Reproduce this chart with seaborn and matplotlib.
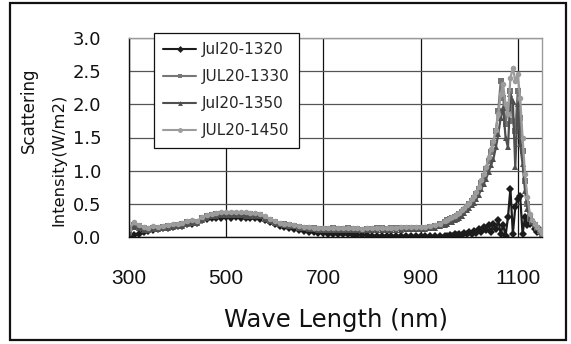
import matplotlib
matplotlib.use("Agg")
import matplotlib.pyplot as plt
from matplotlib import font_manager
from matplotlib.patches import Rectangle
import pandas as pd
import seaborn as sns

# Wavelength grid (nm): 10 nm steps up to 950, 5 nm steps through the NIR peak
wavelength = [
    300, 310, 320, 330, 340, 350, 360, 370, 380, 390,
    400, 410, 420, 430, 440, 450, 460, 470, 480, 490,
    500, 510, 520, 530, 540, 550, 560, 570, 580, 590,
    600, 610, 620, 630, 640, 650, 660, 670, 680, 690,
    700, 710, 720, 730, 740, 750, 760, 770, 780, 790,
    800, 810, 820, 830, 840, 850, 860, 870, 880, 890,
    900, 910, 920, 930, 940, 950,
    955, 960, 965, 970, 975, 980, 985, 990, 995, 1000,
    1005, 1010, 1015, 1020, 1025, 1030, 1035, 1040, 1045, 1050,
    1055, 1060, 1065, 1070, 1075, 1080, 1085, 1090, 1095, 1100,
    1105, 1110, 1115, 1120, 1125, 1130, 1135, 1140, 1145, 1150,
]

jul20_1320 = [
    0.00, 0.03, 0.05, 0.07, 0.09, 0.11, 0.12, 0.13, 0.14, 0.15,
    0.16, 0.17, 0.19, 0.20, 0.21, 0.25, 0.27, 0.28, 0.29, 0.29,
    0.30, 0.29, 0.30, 0.29, 0.29, 0.28, 0.28, 0.27, 0.25, 0.22,
    0.19, 0.17, 0.15, 0.13, 0.12, 0.10, 0.09, 0.08, 0.07, 0.06,
    0.06, 0.05, 0.05, 0.04, 0.04, 0.04, 0.03, 0.03, 0.03, 0.03,
    0.02, 0.02, 0.02, 0.02, 0.02, 0.01, 0.01, 0.01, 0.01, 0.01,
    0.01, 0.01, 0.02, 0.01, 0.02, 0.02,
    0.01, 0.03, 0.02, 0.04, 0.03, 0.05, 0.03, 0.06, 0.04, 0.07,
    0.05, 0.09, 0.06, 0.12, 0.08, 0.15, 0.10, 0.18, 0.08, 0.20,
    0.12, 0.25, 0.05, 0.18, 0.02, 0.30, 0.73, 0.05, 0.45, 0.58,
    0.62, 0.05, 0.30, 0.18, 0.20, 0.22, 0.12, 0.08, 0.10, 0.04,
]

jul20_1330 = [
    0.08, 0.18, 0.16, 0.13, 0.12, 0.14, 0.13, 0.15, 0.16, 0.17,
    0.18, 0.19, 0.22, 0.23, 0.22, 0.28, 0.31, 0.33, 0.34, 0.35,
    0.35, 0.35, 0.35, 0.34, 0.34, 0.34, 0.33, 0.33, 0.29, 0.25,
    0.22, 0.20, 0.19, 0.18, 0.17, 0.15, 0.14, 0.14, 0.13, 0.12,
    0.12, 0.12, 0.13, 0.12, 0.12, 0.13, 0.12, 0.12, 0.11, 0.12,
    0.12, 0.13, 0.13, 0.12, 0.13, 0.13, 0.14, 0.14, 0.14, 0.14,
    0.14, 0.14, 0.15, 0.17, 0.19, 0.22,
    0.25, 0.27, 0.28, 0.30, 0.32, 0.34, 0.37, 0.41, 0.45, 0.49,
    0.54, 0.59, 0.65, 0.72, 0.82, 0.92, 1.02, 1.15, 1.28, 1.42,
    1.60, 1.90, 2.35, 2.10, 1.70, 1.95, 2.20, 1.75, 1.60, 2.20,
    1.80, 1.30, 0.85, 0.50, 0.30, 0.22, 0.18, 0.13, 0.09, 0.05,
]

jul20_1350 = [
    0.06, 0.15, 0.14, 0.11, 0.10, 0.12, 0.12, 0.13, 0.14, 0.15,
    0.16, 0.17, 0.20, 0.21, 0.21, 0.26, 0.29, 0.31, 0.32, 0.33,
    0.33, 0.33, 0.33, 0.33, 0.32, 0.32, 0.32, 0.31, 0.27, 0.24,
    0.21, 0.19, 0.18, 0.17, 0.16, 0.14, 0.13, 0.12, 0.12, 0.11,
    0.10, 0.10, 0.11, 0.10, 0.10, 0.11, 0.10, 0.10, 0.10, 0.10,
    0.10, 0.11, 0.11, 0.10, 0.11, 0.11, 0.11, 0.12, 0.12, 0.12,
    0.12, 0.12, 0.13, 0.14, 0.16, 0.18,
    0.20, 0.22, 0.23, 0.25, 0.27, 0.29, 0.32, 0.36, 0.40, 0.44,
    0.48, 0.52, 0.57, 0.64, 0.72, 0.80, 0.88, 0.98, 1.08, 1.18,
    1.35, 1.55, 1.80, 1.95, 1.50, 1.35, 2.15, 2.05, 1.05, 2.00,
    1.40, 1.10, 0.70, 0.42, 0.28, 0.22, 0.18, 0.14, 0.10, 0.07,
]

jul20_1450 = [
    0.12, 0.22, 0.18, 0.15, 0.14, 0.16, 0.15, 0.17, 0.18, 0.19,
    0.20, 0.21, 0.24, 0.25, 0.24, 0.30, 0.33, 0.35, 0.36, 0.37,
    0.38, 0.37, 0.38, 0.37, 0.37, 0.36, 0.36, 0.35, 0.31, 0.27,
    0.24, 0.21, 0.20, 0.19, 0.18, 0.16, 0.15, 0.15, 0.14, 0.13,
    0.13, 0.13, 0.14, 0.13, 0.13, 0.14, 0.13, 0.13, 0.12, 0.13,
    0.13, 0.14, 0.14, 0.13, 0.14, 0.14, 0.15, 0.15, 0.15, 0.15,
    0.15, 0.15, 0.16, 0.18, 0.20, 0.24,
    0.26, 0.28, 0.30, 0.32, 0.34, 0.36, 0.40, 0.44, 0.48, 0.52,
    0.58, 0.62, 0.68, 0.76, 0.86, 0.95, 1.05, 1.20, 1.32, 1.45,
    1.62, 1.85, 2.15, 2.30, 2.00, 1.85, 2.40, 2.55, 2.35, 2.45,
    2.10, 1.50, 0.95, 0.60, 0.35, 0.25, 0.20, 0.15, 0.10, 0.06,
]

series_names = ["Jul20-1320", "JUL20-1330", "Jul20-1350", "JUL20-1450"]
series_colors = ["#1c1c1c", "#767676", "#4f4f4f", "#9c9c9c"]
series_markers = ["D", "s", "^", "o"]
x_ticks = [300, 500, 700, 900, 1100]
y_ticks = [0.0, 0.5, 1.0, 1.5, 2.0, 2.5, 3.0]

sns.set_theme(style="white")
plt.rcParams["font.family"] = ["DejaVu Sans"]

# narrow face for the wavelength tick numbers, with a size that keeps their width
installed = {f.name for f in font_manager.fontManager.ttflist}
if "Liberation Sans Narrow" in installed:
    xtick_family, xtick_size = "Liberation Sans Narrow", 18
elif "DejaVu Sans Condensed" in installed:
    xtick_family, xtick_size = "DejaVu Sans Condensed", 15.5
elif "Liberation Sans" in installed:
    xtick_family, xtick_size = "Liberation Sans", 15
else:
    xtick_family, xtick_size = "DejaVu Sans", 14

W, H = 571, 344
fig = plt.figure(figsize=(W / 100, H / 100), dpi=100)
fig.patch.set_facecolor("white")

# plot area in pixel coordinates
left, right, top, bottom = 129, 542, 38, 237
ax = fig.add_axes([left / W, 1 - bottom / H, (right - left) / W, (bottom - top) / H])

wide = pd.DataFrame({
    "wavelength": wavelength,
    series_names[0]: jul20_1320,
    series_names[1]: jul20_1330,
    series_names[2]: jul20_1350,
    series_names[3]: jul20_1450,
})
long = wide.melt(id_vars="wavelength", var_name="series", value_name="intensity")

sns.lineplot(
    data=long, x="wavelength", y="intensity",
    hue="series", style="series",
    hue_order=series_names, style_order=series_names,
    palette=dict(zip(series_names, series_colors)),
    markers=dict(zip(series_names, series_markers)),
    dashes=False, linewidth=1.6, markersize=4, markeredgewidth=0,
    ax=ax,
)

ax.set_xlim(300, 1150)
ax.set_ylim(0, 3.0)
ax.set_xticks(x_ticks)
ax.set_yticks(y_ticks)
ax.set_yticklabels([f"{v:.1f}" for v in y_ticks])
ax.set_xlabel("")
ax.set_ylabel("")

ax.set_axisbelow(True)
ax.xaxis.grid(True, color="#111111", linewidth=0.9)
ax.yaxis.grid(True, color="#555555", linewidth=0.9)

for side in ["left", "bottom"]:
    ax.spines[side].set_color("#111111")
    ax.spines[side].set_linewidth(1.0)
for side in ["top", "right"]:
    ax.spines[side].set_color("#9a9a9a")
    ax.spines[side].set_linewidth(1.0)

ax.tick_params(axis="y", length=0, pad=20, labelsize=13, labelcolor="#111111")
ax.tick_params(axis="x", length=0, pad=23, labelsize=xtick_size, labelcolor="#111111")
for lbl in ax.get_xticklabels():
    lbl.set_fontfamily(xtick_family)

# legend box overlapping the top of the plot area
handles, labels = ax.get_legend_handles_labels()
leg = ax.legend(
    handles, labels,
    loc="upper left", bbox_to_anchor=(154 / W, 1 - 33 / H),
    bbox_transform=fig.transFigure,
    fontsize=11, frameon=True, fancybox=False, framealpha=1,
    edgecolor="#111111", borderpad=0.62, labelspacing=0.78,
    handlelength=2.1, handletextpad=0.4, borderaxespad=0,
)
leg.get_frame().set_linewidth(0.9)
for line in leg.get_lines():
    line.set_linewidth(1.5)
    line.set_markersize(3.5)

# axis titles
fig.text(29 / W, 1 - 110 / H, "Scattering", rotation=90,
         ha="center", va="center", fontsize=12, color="#111111")
fig.text(59 / W, 1 - 160 / H, "Intensity(W/m2)", rotation=90,
         ha="center", va="center", fontsize=11.8, color="#111111")
fig.text(336 / W, 1 - 320 / H, "Wave Length (nm)",
         ha="center", va="center", fontsize=17.5, color="#111111")

# outer chart frame
fig.add_artist(Rectangle((10 / W, 1 - 340 / H), 556 / W, 337 / H,
                         transform=fig.transFigure, fill=False,
                         edgecolor="#111111", linewidth=1.6))

fig.savefig("out.png", dpi=100, facecolor="white")
